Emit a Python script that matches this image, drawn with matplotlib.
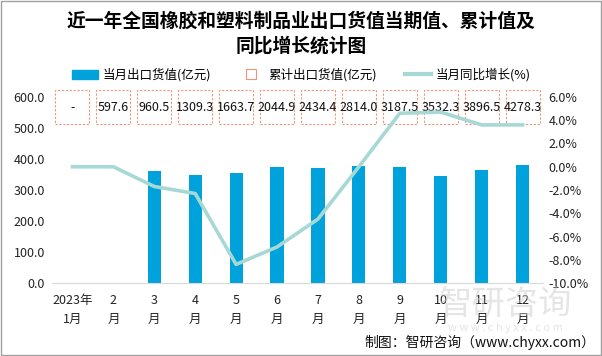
import numpy as np
import matplotlib
matplotlib.use("Agg")
from matplotlib import pyplot as plt
from matplotlib.patches import Rectangle
from matplotlib.lines import Line2D
from matplotlib.transforms import blended_transform_factory

plt.rcParams["font.family"] = ["Noto Sans CJK SC", "DejaVu Sans"]

# ---- data ----
months = ["2023年\n1月", "2\n月", "3\n月", "4\n月", "5\n月", "6\n月",
          "7\n月", "8\n月", "9\n月", "10\n月", "11\n月", "12\n月"]
monthly_value = [np.nan, np.nan, 362.9, 348.8, 354.4, 375.0,
                 371.0, 376.0, 373.5, 344.8, 364.2, 381.8]
cumulative_value = ["-", "597.6", "960.5", "1309.3", "1663.7", "2044.9",
                    "2434.4", "2814.0", "3187.5", "3532.3", "3896.5", "4278.3"]
yoy_growth = [0.0, 0.0, -1.7, -2.3, -8.4, -6.9, -4.5, 0.0, 4.6, 4.7, 3.6, 3.6]

BAR_COLOR = "#00A2DC"
LINE_COLOR = "#A6D9D5"
BOX_COLOR = "#F0957A"

fig = plt.figure(figsize=(6.02, 3.56), dpi=100)
ax = fig.add_axes([52 / 602, 1 - 283 / 356, 491 / 602, 186 / 356])
ax2 = ax.twinx()

x = np.arange(len(months))
ax.bar(x, monthly_value, width=0.32, color=BAR_COLOR, zorder=2)
ax.set_xlim(-0.5, len(months) - 0.5)
ax.set_ylim(0, 600)
ax.set_yticks(np.arange(0, 601, 100))
ax.set_yticklabels([f"{v:.1f}" for v in np.arange(0, 601, 100)])
ax.set_xticks(x)
ax.set_xticklabels(months, fontsize=9, linespacing=1.6)
ax.tick_params(axis="both", length=0, labelsize=9, colors="#222222")
ax.tick_params(axis="x", pad=8)
ax.tick_params(axis="y", pad=5)

ax2.plot(x, yoy_growth, color=LINE_COLOR, lw=2.6, zorder=3)
ax2.set_ylim(-10, 6)
ax2.set_yticks(np.arange(-10, 7, 2))
ax2.set_yticklabels([f"{v:.1f}%" for v in np.arange(-10, 7, 2)])
ax2.tick_params(axis="y", length=0, labelsize=9, colors="#222222", pad=4)

for a in (ax, ax2):
    for s in ("top", "left", "right", "bottom"):
        a.spines[s].set_visible(False)
ax.spines["bottom"].set_visible(True)
ax.spines["bottom"].set_color("#D9D9D9")

# cumulative value boxes
trans = blended_transform_factory(ax.transData, ax.transAxes)
for i, txt in enumerate(cumulative_value):
    ax.add_patch(Rectangle((i - 0.415, 0.855), 0.83, 0.183, transform=trans,
                           fill=False, ec=BOX_COLOR, lw=0.8, ls=(0, (2, 1.5)),
                           clip_on=False, zorder=4))
    ax.text(i, 0.946, txt, transform=trans, ha="center", va="center",
            fontsize=9, color="#111111", zorder=5)

# legend
handles = [
    Rectangle((0, 0), 1, 1, color=BAR_COLOR),
    Line2D([], [], marker="s", ls="none", markersize=7, markerfacecolor="none",
           markeredgecolor=BOX_COLOR, markeredgewidth=0.8),
    Line2D([], [], color=LINE_COLOR, lw=3),
]
labels = ["当月出口货值(亿元)", "累计出口货值(亿元)", "当月同比增长(%)"]
fig.legend(handles, labels, loc="center", bbox_to_anchor=(0.5, 1 - 75 / 356),
           ncol=3, frameon=False, fontsize=9, handlelength=2.1,
           columnspacing=2.2, handletextpad=0.35)

fig.text(0.5, 1 - 21 / 356, "近一年全国橡胶和塑料制品业出口货值当期值、累计值及",
         ha="center", va="center", fontsize=13.5, fontweight="bold")
fig.text(0.5, 1 - 46 / 356, "同比增长统计图",
         ha="center", va="center", fontsize=13.5, fontweight="bold")

# watermark
fig.text(505 / 602, 1 - 304 / 356, "智研咨询", ha="center", va="center",
         fontsize=24, color="#CCCCCC", alpha=0.5)
fig.text(505 / 602, 1 - 328 / 356, "w w w . c h y x x . c o m", ha="center",
         va="center", fontsize=8, color="#CCCCCC", alpha=0.5)
fig.text(595 / 602, 1 - 342 / 356, "制图：智研咨询（www.chyxx.com）",
         ha="right", va="center", fontsize=10, color="#111111")

fig.add_artist(Rectangle((0.001, 0.002), 0.997, 0.996, transform=fig.transFigure,
                         fill=False, ec="#A0A0A0", lw=1.0))

fig.savefig("out.png", dpi=100)
